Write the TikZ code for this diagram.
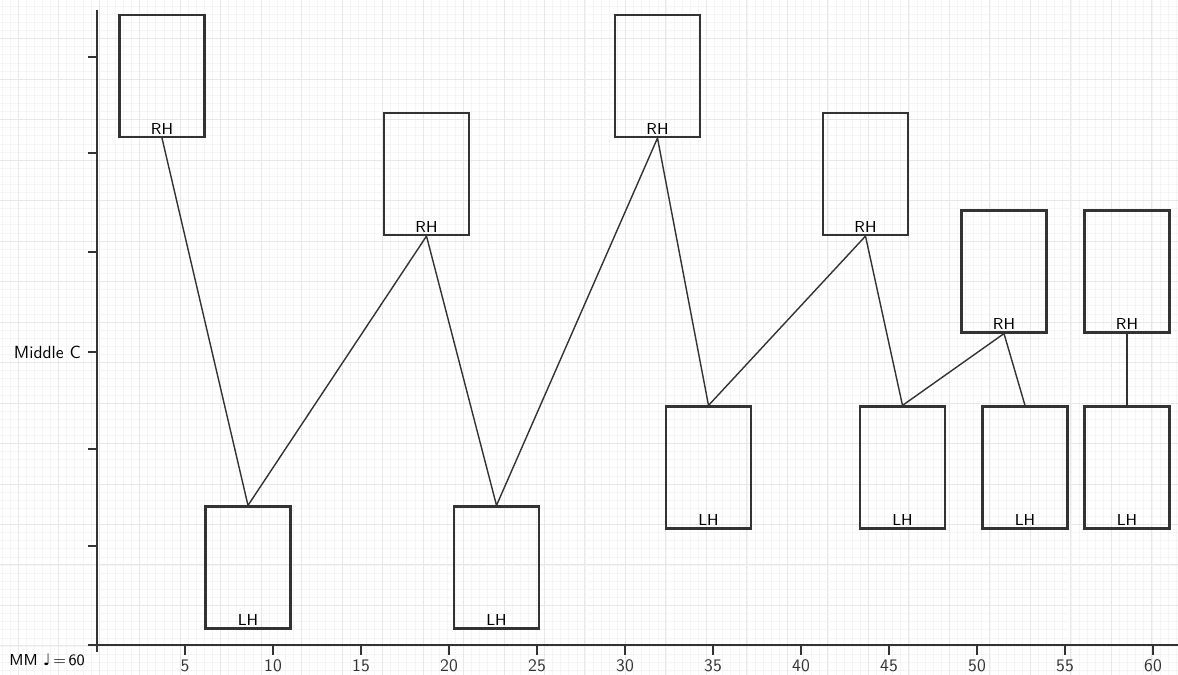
\documentclass[tikz,border=0pt]{standalone}
\usepackage{fontspec}
\usepackage{tikz}
\usetikzlibrary{positioning}
\newfontfamily\notefont{DejaVu Sans}

\begin{document}
\begin{tikzpicture}[
  x=0.02cm,y=-0.02cm,
  hand/.style={draw,line width=1.25pt,black!80,minimum width=1.7cm,minimum height=2.44cm,inner sep=0pt},
  rh/.style={hand,label={[anchor=south,inner sep=2pt,font=\sffamily\small]south:RH}},
  lh/.style={hand,label={[anchor=south,inner sep=2pt,font=\sffamily\small]south:LH}},
  link/.style={line width=0.8pt,black!80},
  axis/.style={line width=1pt,black!80},
  every node/.style={font=\sffamily}
]
\useasboundingbox (0,0) rectangle (1178,675);

% graph paper
\begin{scope}[shift={(18,38.5)}]
  \draw[black!4,line width=0.3pt,step=0.162cm] (-18,-38.5) grid (1160,636.5);
  \draw[black!9,line width=0.45pt,step=0.81cm] (-18,-38.5) grid (1160,636.5);
\end{scope}

% axes
\coordinate (top) at (97,10);
\coordinate (foot) at (97,652);
\coordinate (left) at (88,645);
\coordinate (right) at (1178,645);
\draw[axis] (top) -- (foot);
\draw[axis] (left) -- (right);
\foreach \y in {57,153,252,352,449,546}
  \draw[axis] (88,\y) -- (97,\y);
\foreach \t in {5,10,...,60}
  \draw[axis] ({97+17.6*\t},645) -- ({97+17.6*\t},655)
    node[below=-1pt] (tick\t) {\t};

\node[anchor=east] (midc) at (87,352) {Middle C};
\node[anchor=east,font=\sffamily\small] (tempo) at (91,660) {MM {\notefont ♩}\,=\,60};

% hands
\node[rh] (rh1) at (162,76) {};
\node[lh] (lh2) at (248,567.5) {};
\node[rh] (rh3) at (426.5,174) {};
\node[lh] (lh4) at (496.5,567.5) {};
\node[rh] (rh5) at (657.5,76) {};
\node[lh] (lh6) at (708.5,467.5) {};
\node[rh] (rh7) at (865.5,174) {};
\node[lh] (lh8) at (902.5,467.5) {};
\node[rh] (rh9) at (1004,271.5) {};
\node[lh] (lh10) at (1025,467.5) {};
\node[rh] (rh11) at (1127,271.5) {};
\node[lh] (lh12) at (1127,467.5) {};

\draw[link] (rh1.south) -- (lh2.north) -- (rh3.south) -- (lh4.north)
  -- (rh5.south) -- (lh6.north) -- (rh7.south) -- (lh8.north)
  -- (rh9.south) -- (lh10.north);
\draw[link] (rh11.south) -- (lh12.north);
\end{tikzpicture}
\end{document}
